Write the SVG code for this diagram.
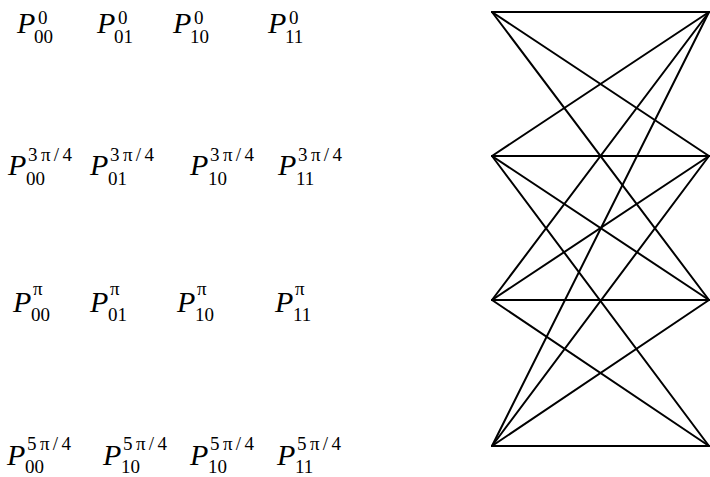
<svg xmlns="http://www.w3.org/2000/svg" width="710" height="477" viewBox="0 0 710 477">
<style>
.p{font-family:"Liberation Serif","Times New Roman",serif;font-style:italic;font-size:30px;fill:#000}
.s{font-family:"Liberation Serif","Times New Roman",serif;font-size:19px;fill:#000}
.e{stroke:#000;stroke-width:2;stroke-linecap:round;fill:none}
</style>
<rect width="710" height="477" fill="#fff"/>
<g id="row0">
<g id="P00_0"><text class="p" x="17" y="33">P</text><text class="s" x="34" y="43">00</text><text class="s" x="38" y="24">0</text></g>
<g id="P01_0"><text class="p" x="97" y="33">P</text><text class="s" x="114" y="43">01</text><text class="s" x="118" y="24">0</text></g>
<g id="P10_0"><text class="p" x="173" y="33">P</text><text class="s" x="190" y="43">10</text><text class="s" x="194" y="24">0</text></g>
<g id="P11_0"><text class="p" x="268" y="33">P</text><text class="s" x="285" y="43">11</text><text class="s" x="289" y="24">0</text></g>
</g>
<g id="row1">
<g id="P00_1"><text class="p" x="8" y="175">P</text><text class="s" x="26" y="185">00</text><text class="s" x="28" y="161" textLength="44" lengthAdjust="spacing">3π/4</text></g>
<g id="P01_1"><text class="p" x="90" y="175">P</text><text class="s" x="108" y="185">01</text><text class="s" x="110" y="161" textLength="44" lengthAdjust="spacing">3π/4</text></g>
<g id="P10_1"><text class="p" x="190" y="175">P</text><text class="s" x="208" y="185">10</text><text class="s" x="210" y="161" textLength="44" lengthAdjust="spacing">3π/4</text></g>
<g id="P11_1"><text class="p" x="278" y="175">P</text><text class="s" x="296" y="185">11</text><text class="s" x="298" y="161" textLength="44" lengthAdjust="spacing">3π/4</text></g>
</g>
<g id="row2">
<g id="P00_2"><text class="p" x="13" y="312">P</text><text class="s" x="31" y="321">00</text><text class="s" x="33" y="295">π</text></g>
<g id="P01_2"><text class="p" x="90" y="312">P</text><text class="s" x="108" y="321">01</text><text class="s" x="110" y="295">π</text></g>
<g id="P10_2"><text class="p" x="177" y="312">P</text><text class="s" x="195" y="321">10</text><text class="s" x="197" y="295">π</text></g>
<g id="P11_2"><text class="p" x="275" y="312">P</text><text class="s" x="293" y="321">11</text><text class="s" x="295" y="295">π</text></g>
</g>
<g id="row3">
<g id="P00_3"><text class="p" x="7" y="465">P</text><text class="s" x="25" y="473">00</text><text class="s" x="27" y="450" textLength="44" lengthAdjust="spacing">5π/4</text></g>
<g id="P10_3a"><text class="p" x="103" y="465">P</text><text class="s" x="121" y="473">10</text><text class="s" x="123" y="450" textLength="44" lengthAdjust="spacing">5π/4</text></g>
<g id="P10_3b"><text class="p" x="190" y="465">P</text><text class="s" x="208" y="473">10</text><text class="s" x="210" y="450" textLength="44" lengthAdjust="spacing">5π/4</text></g>
<g id="P11_3"><text class="p" x="277" y="465">P</text><text class="s" x="295" y="473">11</text><text class="s" x="297" y="450" textLength="44" lengthAdjust="spacing">5π/4</text></g>
</g>
<g id="connectors">
<line class="e" x1="492" y1="12" x2="709" y2="12"/>
<line class="e" x1="492" y1="12" x2="709" y2="156"/>
<line class="e" x1="492" y1="12" x2="709" y2="300"/>
<line class="e" x1="492" y1="156" x2="709" y2="12"/>
<line class="e" x1="492" y1="156" x2="709" y2="156"/>
<line class="e" x1="492" y1="156" x2="709" y2="300"/>
<line class="e" x1="492" y1="156" x2="709" y2="446"/>
<line class="e" x1="492" y1="300" x2="709" y2="12"/>
<line class="e" x1="492" y1="300" x2="709" y2="156"/>
<line class="e" x1="492" y1="300" x2="709" y2="300"/>
<line class="e" x1="492" y1="300" x2="709" y2="446"/>
<line class="e" x1="492" y1="446" x2="709" y2="12"/>
<line class="e" x1="492" y1="446" x2="709" y2="156"/>
<line class="e" x1="492" y1="446" x2="709" y2="300"/>
<line class="e" x1="492" y1="446" x2="709" y2="446"/>
</g>
</svg>
